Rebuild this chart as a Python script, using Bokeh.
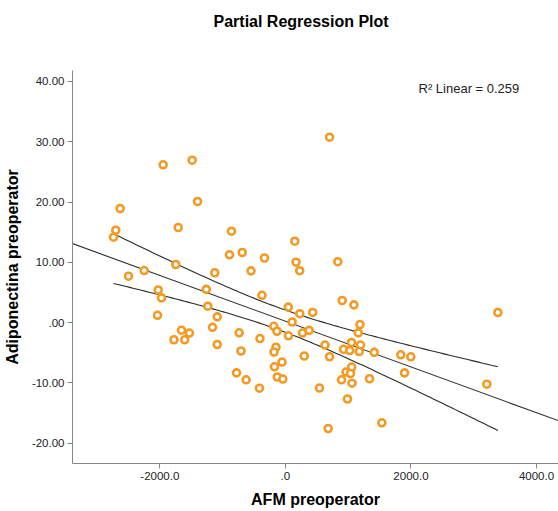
import numpy as np
from bokeh.plotting import figure
from bokeh.models import FixedTicker, Label, Range1d, Title
from bokeh.embed import file_html
from bokeh.resources import INLINE

# ---- data ----
afm = [-1947, -1485, -1400, -2632, -2702, -2738, -1708, -859, 150, -891,
       -688, -333, 169, 228, -1746, -2249, -2499, -1125, -548, -1260,
       -2026, -1974, -373, -1236, 46, 229, 435, -2037, -1086, 703,
       835, 905, 1091, 3384, 108, 1188, -1655, -1528, -1775, -1604,
       -1161, -1086, -736, -707, -405, -185, -134, 49, 272, 379,
       -150, -182, -54, -174, -129, -41, 300, -779, -625, -413,
       1161, 631, 703, 1053, 1196, 926, 1024, 1176, 1415, 1838,
       1998, 1056, 965, 1037, 894, 1061, 1340, 1897, 3208, 543,
       989, 682, 1536]
adipo = [26.18, 26.94, 20.09, 18.93, 15.33, 14.17, 15.78, 15.16, 13.50, 11.25,
         11.63, 10.72, 10.02, 8.61, 9.64, 8.64, 7.70, 8.26, 8.59, 5.52,
         5.41, 4.11, 4.53, 2.72, 2.57, 1.48, 1.69, 1.21, 0.96, 30.76,
         10.10, 3.67, 2.95, 1.68, 0.10, -0.32, -1.26, -1.73, -2.84, -2.85,
         -0.78, -3.63, -1.69, -4.71, -2.64, -0.61, -1.43, -2.19, -1.73, -1.28,
         -4.08, -4.88, -6.54, -7.33, -9.02, -9.36, -5.54, -8.33, -9.49, -10.88,
         -1.71, -3.72, -5.66, -3.30, -3.72, -4.43, -4.63, -4.79, -4.93, -5.34,
         -5.67, -7.37, -8.20, -8.44, -9.49, -10.05, -9.31, -8.33, -10.22, -10.85,
         -12.67, -17.57, -16.62]

x_ticks = [-2000, 0, 2000, 4000]
x_tick_labels = ["-2000.0", ".0", "2000.0", "4000.0"]
y_ticks = [-20, -10, 0, 10, 20, 30, 40]
y_tick_labels = ["-20.00", "-10.00", ".00", "10.00", "20.00", "30.00", "40.00"]
r2_text = "R\u00b2 Linear = 0.259"
title_text = "Partial Regression Plot"
x_title = "AFM preoperator"
y_title = "Adiponectina preoperator"

x_range = (-3391, 4350)
y_range = (-23.37, 41.82)

# ---- linear fit with 95% CI of the mean ----
x = np.array(afm, dtype=float)
y = np.array(adipo, dtype=float)
n = len(x)
b, a = np.polyfit(x, y, 1)
res = y - (a + b * x)
s = np.sqrt(np.sum(res ** 2) / (n - 2))
sxx = np.sum((x - x.mean()) ** 2)
t = 1.99
bx = np.linspace(x.min(), x.max(), 120)
byhat = a + b * bx
se = s * np.sqrt(1.0 / n + (bx - x.mean()) ** 2 / sxx)
upper = byhat + t * se
lower = byhat - t * se
fx = np.array([x_range[0] - 800, x_range[1] + 800])
fy = a + b * fx

FONT = "Liberation Sans"

p = figure(width=558, height=511, output_backend="svg", toolbar_location=None,
           title=None,
           x_range=Range1d(*x_range), y_range=Range1d(*y_range),
           min_border_left=72, min_border_right=0, min_border_bottom=48,
           min_border_top=70)
p.outline_line_color = None
p.grid.visible = False
p.background_fill_color = "white"
p.border_fill_color = "white"

# spacer between frame and title, then the title itself
p.add_layout(Title(text=" ", text_font_size="1px", standoff=38), "above")
p.add_layout(Title(text=title_text, align="left", offset=141, standoff=0,
                   text_font=FONT, text_font_size="16px",
                   text_font_style="bold", text_color="#000000"), "above")

for ax, ticks, labels, ttl in ((p.xaxis[0], x_ticks, x_tick_labels, x_title),
                               (p.yaxis[0], y_ticks, y_tick_labels, y_title)):
    ax.ticker = FixedTicker(ticks=ticks)
    ax.major_label_overrides = {k: v for k, v in zip(ticks, labels)}
    ax.minor_tick_line_color = None
    ax.major_tick_out = 5
    ax.major_tick_in = 0
    ax.major_label_standoff = 3
    ax.axis_line_color = "#888888"
    ax.major_tick_line_color = "#888888"
    ax.major_label_text_font = FONT
    ax.major_label_text_font_size = "11.5px"
    ax.major_label_text_color = "#222222"
    ax.axis_label = ttl
    ax.axis_label_text_font = FONT
    ax.axis_label_text_font_size = "16px"
    ax.axis_label_text_font_style = "bold"
    ax.axis_label_text_color = "#000000"
    ax.axis_label_standoff = 8

# lines
p.line(fx, fy, line_color="#2a2a2a", line_width=1.1)
p.line(bx, upper, line_color="#2a2a2a", line_width=1.1)
p.line(bx, lower, line_color="#2a2a2a", line_width=1.1)

# points
p.scatter(afm, adipo, marker="circle", size=7, line_color="#F39A24",
          line_width=2.6, fill_color="white")

p.add_layout(Label(x=2120, y=38.8, text=r2_text, text_font=FONT,
                   text_font_size="13px", text_color="#222222",
                   text_baseline="middle", text_align="left"))

open("out.html", "w").write(file_html(p, INLINE))
